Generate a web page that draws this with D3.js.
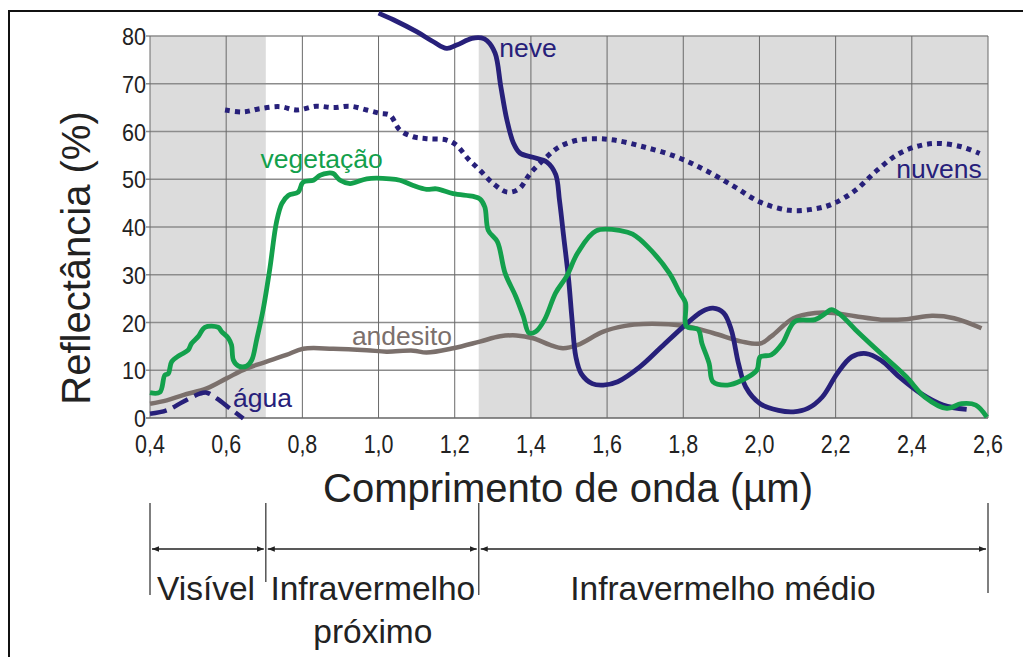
<!DOCTYPE html>
<html><head><meta charset="utf-8">
<script src="https://cdn.jsdelivr.net/npm/d3@7"></script>
<style>body{margin:0;background:#fff}svg{display:block}text{font-family:"Liberation Sans",Arial,sans-serif}</style>
</head><body><svg id="c" width="1023" height="657"></svg>
<script>
// ---- data ----
const xTicks = [0.4,0.6,0.8,1.0,1.2,1.4,1.6,1.8,2.0,2.2,2.4,2.6];
const yTicks = [0,10,20,30,40,50,60,70,80];
const bandEdges = [0.4, 0.704, 1.263, 2.6];
const bandNames = [["Visível"],["Infravermelho","próximo"],["Infravermelho médio"]];
const bandLabelWl = [0.547, 0.985, 1.904];

const vegetacao = [[0.4,5.3],[0.426,5.4],[0.439,9.0],[0.448,9.3],[0.457,11.8],[0.479,13.2],[0.50,14.2],[0.509,15.6],[0.527,17.1],[0.544,19.0],[0.579,19.0],[0.588,18.1],[0.606,16.7],[0.614,15.3],[0.619,12.1],[0.632,10.9],[0.654,10.9],[0.667,12.1],[0.68,16.4],[0.697,22.7],[0.715,31.5],[0.732,41.0],[0.746,44.9],[0.763,46.6],[0.789,47.3],[0.802,49.4],[0.829,49.8],[0.846,50.8],[0.868,51.3],[0.881,51.2],[0.899,49.8],[0.925,49.1],[0.969,50.1],[1.03,50.1],[1.056,49.8],[1.091,48.7],[1.126,47.9],[1.152,48.0],[1.196,47.0],[1.249,46.4],[1.266,45.9],[1.279,44.2],[1.288,39.3],[1.312,36.9],[1.332,30.4],[1.36,25.5],[1.38,21.3],[1.395,17.8],[1.413,18.1],[1.436,20.6],[1.465,26.2],[1.494,29.7],[1.523,34.6],[1.571,39.2],[1.638,39.2],[1.667,38.5],[1.705,36.0],[1.763,30.4],[1.791,26.2],[1.806,24.1],[1.808,19.2],[1.839,18.5],[1.849,15.6],[1.868,11.4],[1.878,7.6],[1.916,6.9],[1.954,7.9],[1.993,10.0],[2.002,12.8],[2.031,13.2],[2.06,15.6],[2.093,20.2],[2.146,20.6],[2.175,22.0],[2.189,22.7],[2.213,21.6],[2.252,18.5],[2.319,13.5],[2.386,8.6],[2.434,4.4],[2.492,2.0],[2.53,3.0],[2.568,2.7],[2.597,0.2]];

const neve = [[1.0,84.8],[1.039,83.4],[1.1,80.9],[1.144,78.8],[1.179,77.4],[1.205,78.1],[1.245,79.5],[1.27,79.6],[1.285,79.0],[1.306,76.4],[1.321,69.4],[1.337,62.4],[1.354,57.6],[1.371,55.5],[1.405,54.6],[1.442,53.6],[1.465,51.0],[1.475,45.6],[1.486,38.0],[1.499,29.0],[1.508,20.6],[1.518,12.8],[1.532,9.3],[1.561,7.2],[1.59,6.9],[1.628,7.6],[1.686,10.7],[1.743,14.9],[1.801,19.2],[1.849,22.3],[1.878,23.0],[1.906,22.0],[1.926,18.5],[1.945,11.4],[1.964,6.5],[2.002,3.0],[2.05,1.6],[2.089,1.3],[2.127,2.0],[2.165,4.4],[2.204,9.3],[2.242,12.8],[2.28,13.5],[2.319,12.1],[2.367,8.6],[2.424,5.1],[2.482,2.7],[2.544,1.8]];

const nuvens = [[0.597,64.5],[0.645,64.1],[0.689,64.8],[0.741,65.2],[0.785,64.5],[0.837,65.3],[0.881,65.0],[0.925,65.3],[0.969,64.5],[1.004,63.8],[1.03,63.4],[1.056,60.3],[1.091,58.9],[1.126,58.5],[1.179,58.2],[1.205,57.1],[1.235,54.3],[1.266,51.9],[1.301,49.1],[1.338,47.3],[1.369,48.0],[1.398,51.2],[1.436,54.3],[1.475,56.8],[1.523,58.2],[1.571,58.5],[1.619,58.2],[1.695,56.8],[1.782,54.7],[1.858,51.9],[1.935,48.4],[2.002,45.2],[2.079,43.5],[2.146,43.8],[2.194,44.9],[2.252,47.7],[2.309,51.9],[2.367,55.4],[2.424,57.1],[2.472,57.5],[2.53,56.8],[2.578,55.4]];

const andesito = [[0.4,3.0],[0.444,3.7],[0.487,4.8],[0.549,6.2],[0.601,8.3],[0.654,10.4],[0.706,11.8],[0.758,13.2],[0.802,14.5],[0.881,14.5],[0.969,14.2],[1.021,13.9],[1.091,14.1],[1.126,13.7],[1.196,14.6],[1.266,16.0],[1.319,17.1],[1.362,17.3],[1.406,16.7],[1.45,15.3],[1.484,14.6],[1.523,15.3],[1.59,18.1],[1.647,19.3],[1.695,19.7],[1.801,19.3],[1.878,17.8],[1.954,16.0],[2.002,15.6],[2.031,17.1],[2.089,20.9],[2.146,22.0],[2.194,22.0],[2.252,21.3],[2.319,20.6],[2.386,20.7],[2.453,21.4],[2.511,20.9],[2.583,18.8]];

const agua = [[0.4,0.9],[0.444,1.6],[0.487,3.4],[0.531,5.1],[0.549,5.3],[0.575,4.1],[0.61,2.0],[0.645,-0.1]];

const labels = [
  {t:"neve", wl:1.317, r:75.6, c:"#27207a"},
  {t:"nuvens", wl:2.359, r:50.3, c:"#27207a"},
  {t:"vegetação", wl:0.69, r:52.3, c:"#13a04c"},
  {t:"andesito", wl:0.93, r:15.3, c:"#7b706c"},
  {t:"água", wl:0.618, r:2.3, c:"#27207a"}
];

// ---- drawing ----
const svg = d3.select("#c");
const x = d3.scaleLinear().domain([0.4,2.6]).range([150,988]);
const y = d3.scaleLinear().domain([0,80]).range([418,36]);

// frame border
svg.append("path").attr("d","M9,657 V11 H1023").attr("fill","none").attr("stroke","#111").attr("stroke-width",2);

// shading
const shade = [[bandEdges[0],bandEdges[1]],[bandEdges[2],bandEdges[3]]];
svg.selectAll("rect.sh").data(shade).join("rect")
  .attr("x",d=>x(d[0])).attr("width",d=>x(d[1])-x(d[0]))
  .attr("y",y(80)).attr("height",y(0)-y(80)).attr("fill","#dcdcdc");

// grid
svg.append("g").selectAll("line").data(yTicks).join("line")
  .attr("x1",x(0.4)-4).attr("x2",x(2.6)).attr("y1",d=>y(d)).attr("y2",d=>y(d))
  .attr("stroke",d=>d===0?"#666":"#8c8c8c").attr("stroke-width",1.4);
svg.append("g").selectAll("line").data(xTicks).join("line")
  .attr("x1",d=>x(d)).attr("x2",d=>x(d)).attr("y1",y(80)).attr("y2",y(0))
  .attr("stroke","#6a6a6a").attr("stroke-width",1);

// tick labels
svg.append("g").selectAll("text").data(yTicks).join("text")
  .attr("transform",d=>`translate(146,${y(d)+9}) scale(0.92,1)`)
  .attr("text-anchor","end").attr("font-size",23.5).attr("fill","#222").text(d=>d);
svg.append("g").selectAll("text").data(xTicks).join("text")
  .attr("transform",d=>`translate(${x(d)},453) scale(0.81,1)`)
  .attr("text-anchor","middle").attr("font-size",26.5).attr("fill","#222")
  .text(d=>d3.format(".1f")(d).replace(".",","));

// axis titles
svg.append("text").attr("transform","translate(90,258) rotate(-90)").attr("text-anchor","middle")
  .attr("font-size",40).attr("fill","#222").text("Reflectância (%)");
svg.append("text").attr("x",568).attr("y",502).attr("text-anchor","middle")
  .attr("font-size",40).attr("fill","#222").text("Comprimento de onda (µm)");

// lines
const line = d3.line().x(d=>x(d[0])).y(d=>y(d[1])).curve(d3.curveCatmullRom.alpha(0.5));
const series = [
  {d:andesito, c:"#7b706c", w:4.5, dash:null},
  {d:nuvens, c:"#27207a", w:5, dash:"5,5"},
  {d:agua, c:"#27207a", w:4.5, dash:"17,7"},
  {d:neve, c:"#27207a", w:4.8, dash:null},
  {d:vegetacao, c:"#13a04c", w:4.8, dash:null}
];
svg.append("g").selectAll("path").data(series).join("path")
  .attr("d",s=>line(s.d)).attr("fill","none").attr("stroke",s=>s.c)
  .attr("stroke-width",s=>s.w).attr("stroke-dasharray",s=>s.dash)
  .attr("stroke-linejoin","round");

// series labels
svg.append("g").selectAll("text").data(labels).join("text")
  .attr("x",d=>x(d.wl)).attr("y",d=>y(d.r)).attr("font-size",26.5).attr("fill",d=>d.c).text(d=>d.t);

// band annotations
const bx = bandEdges.map(v=>x(v));
const sepBottom = [595,582,595,593];
svg.append("g").selectAll("line").data(bx).join("line")
  .attr("x1",d=>d).attr("x2",d=>d).attr("y1",503).attr("y2",(d,i)=>sepBottom[i])
  .attr("stroke","#555").attr("stroke-width",1.5);
const defs = svg.append("defs");
defs.append("marker").attr("id","ah").attr("viewBox","0 0 10 10").attr("refX",10).attr("refY",5)
  .attr("markerWidth",7).attr("markerHeight",7).attr("markerUnits","userSpaceOnUse").attr("orient","auto-start-reverse")
  .append("path").attr("d","M0,1 L10,5 L0,9 Z").attr("fill","#222");
const spans = d3.range(3).map(i=>[bx[i],bx[i+1]]);
svg.append("g").selectAll("line").data(spans).join("line")
  .attr("x1",d=>d[0]+2).attr("x2",d=>d[1]-2).attr("y1",549).attr("y2",549)
  .attr("stroke","#222").attr("stroke-width",1.5)
  .attr("marker-start","url(#ah)").attr("marker-end","url(#ah)");
const bandText = svg.append("g");
bandNames.forEach((lines,i)=>{
  lines.forEach((t,j)=>{
    bandText.append("text").attr("x",x(bandLabelWl[i])).attr("y",600+j*43)
      .attr("text-anchor","middle").attr("font-size",33.5).attr("fill","#222").text(t);
  });
});
</script></body></html>
